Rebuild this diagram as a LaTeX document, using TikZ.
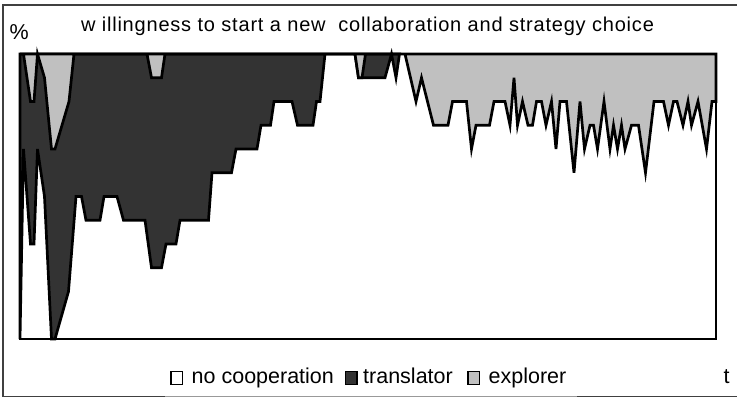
\documentclass[tikz,border=0pt]{standalone}
\usepackage{fontspec}
\setmainfont{Liberation Sans}
\newfontfamily\titlefont[LetterSpace=4]{Liberation Sans}
\definecolor{darkarea}{HTML}{333333}
\definecolor{lightarea}{HTML}{C0C0C0}
\definecolor{framegrey}{HTML}{404040}
\begin{document}
\begin{tikzpicture}[x=1pt,y=-1pt,
    lbl/.style={inner sep=0pt, font=\fontsize{21.5}{24}\selectfont},
    keybox/.style={draw=black, line width=1.5pt, minimum width=11.5pt, minimum height=13pt, inner sep=0pt}]
  \fill[white] (0,0) rectangle (737,398);
  \useasboundingbox (0,0) rectangle (737,398);
  % Outer chart border
  \draw[framegrey, line width=1.6pt] (737,5) -- (2.7,5) -- (2.7,396.5) -- (737,396.5);
  \draw[black!40, line width=1.6pt] (165,396.5) -- (577,396.5);

  % Plot area, y in twelfths
  \begin{scope}[shift={(0,54)}, y=-23.75pt, line width=2.7pt]
    % translator
    \filldraw[fill=darkarea, draw=black] (20,0) -- (20,12) -- (23.5,4) -- (30.5,8) -- (34,8) -- (37.5,4) -- (44.5,6) -- (51.5,12) -- (55,12) -- (68.5,10) -- (76,6) -- (81.5,6) -- (86,7) -- (100,7) -- (104,6) -- (117,6) -- (123.5,7) -- (145,7) -- (151.5,9) -- (161.5,9) -- (166,8) -- (176,8) -- (180,7) -- (208.5,7) -- (212,5) -- (231.5,5) -- (236,4) -- (257,4) -- (261,3) -- (270.5,3) -- (274,2) -- (292,2) -- (297.5,3) -- (313,3) -- (316.5,2) -- (320,2) -- (325,0) -- (355,0) -- (358.5,1) -- (385,1) -- (391.5,0) -- (396,1) -- (399.5,0) -- cycle;
    % explorer
    \filldraw[fill=lightarea, draw=black] (20,0) -- (23.5,0) -- (30.5,2) -- (34,2) -- (37.5,0) -- (44.5,1) -- (51.5,4) -- (55,4) -- (69,2) -- (74,0) -- (147,0) -- (151.5,1) -- (161.5,1) -- (165,0) -- (355,0) -- (358.5,1) -- (362,1) -- (365.5,0) -- (405,0) -- (416,2) -- (421.5,1) -- (433.5,3) -- (448,3) -- (452.5,2) -- (466.5,2) -- (471.5,4) -- (476,3) -- (489.5,3) -- (494,2) -- (505,2) -- (510,3) -- (514,1) -- (517.5,3) -- (522.5,2) -- (528,3) -- (532.5,3) -- (536.5,2) -- (541.5,2) -- (546,3) -- (551.5,2) -- (556,4) -- (560,2) -- (566.5,2) -- (574,5) -- (580,2) -- (584.5,4) -- (590,3) -- (593.5,3) -- (597.5,4) -- (604,2) -- (610,4) -- (613.5,3) -- (617.5,4) -- (621.5,3) -- (625,4) -- (631.5,3) -- (638.5,3) -- (645.5,5) -- (654,2) -- (663.5,2) -- (668.5,3) -- (673.5,2) -- (677,2) -- (683,3) -- (688,2) -- (691.5,3) -- (698,2) -- (706.5,4) -- (712,2) -- (716,2) -- (716,0) -- cycle;
    \draw (20,0) rectangle (716,12);
  \end{scope}

  % Labels
  \node[inner sep=0pt, anchor=base, font=\titlefont\fontsize{20}{22}\selectfont] (title) at (367.5,31.5) {w illingness to start a new\ \ collaboration and strategy choice};
  \node[lbl, anchor=base] (pct) at (19.2,40) {\%};
  \node[lbl, anchor=base west] (tlabel) at (723.5,383.5) {t};

  % Legend
  \node[keybox, fill=white] (nocoopbox) at (176.5,378) {};
  \node[lbl, anchor=base west] (nocoop) at (191.5,383.5) {no cooperation};
  \node[keybox, fill=darkarea] (translbox) at (351,378) {};
  \node[lbl, anchor=base west] (transl) at (363,383.5) {translator};
  \node[keybox, fill=lightarea] (explorbox) at (473.5,378) {};
  \node[lbl, anchor=base west] (explor) at (488.5,383.5) {explorer};
\end{tikzpicture}
\end{document}
